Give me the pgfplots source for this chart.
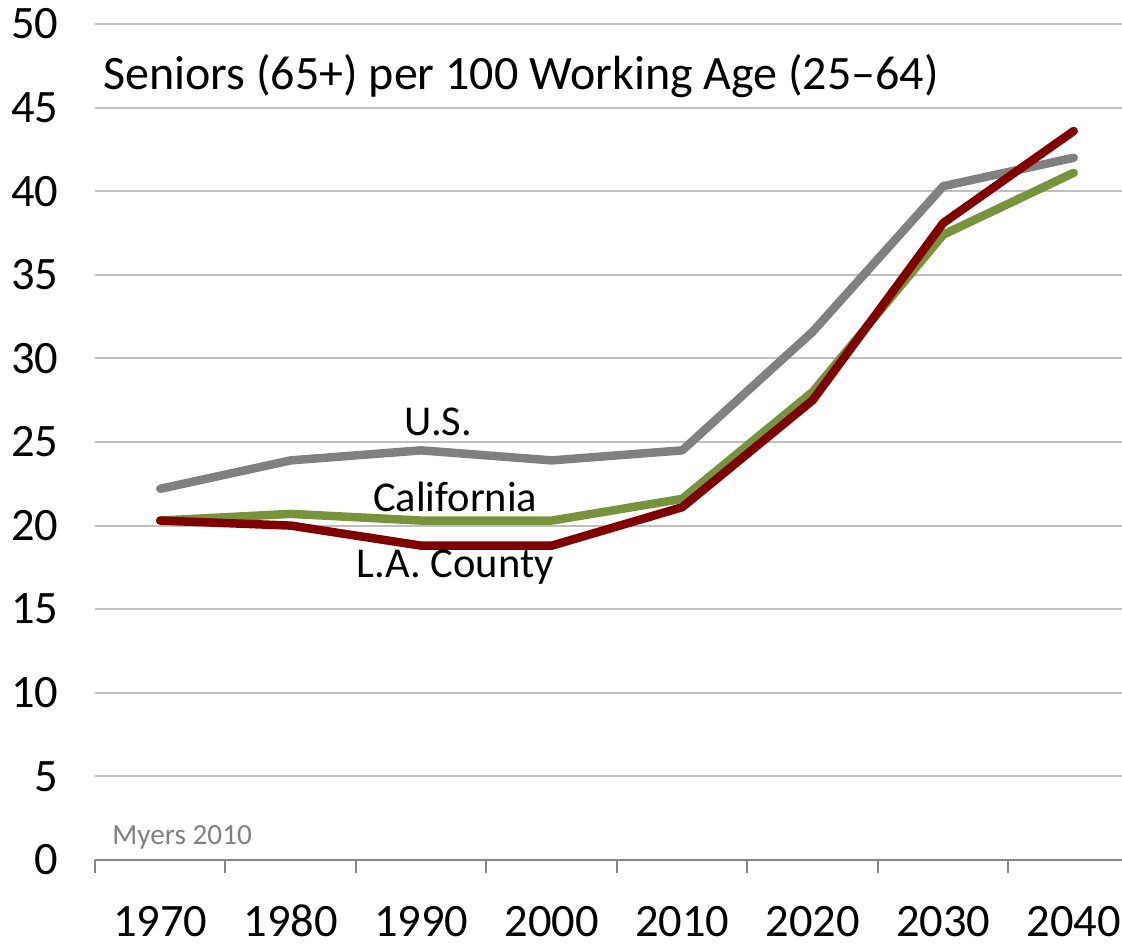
\documentclass[border=0pt]{standalone}
\usepackage{pgfplots}
\pgfplotsset{compat=1.18}
\usepackage{fontspec}
\setmainfont{Carlito}
\definecolor{usgray}{RGB}{128,128,128}
\definecolor{cagreen}{RGB}{119,147,60}
\definecolor{lared}{RGB}{128,0,0}
\definecolor{gridgray}{RGB}{191,191,191}
\definecolor{axgray}{RGB}{134,134,134}
\begin{document}
\begin{tikzpicture}
\begin{axis}[
    scale only axis,
    width=410.8pt, height=334.4pt,
    xmin=-0.5, xmax=7.37,
    ymin=0, ymax=50,
    ytick={0,5,...,50},
    xtick={0,...,7},
    xticklabels={1970,1980,1990,2000,2010,2020,2030,2040},
    major tick length=0pt,
    extra x ticks={-0.5,0.5,...,6.5},
    extra x tick labels={},
    extra x tick style={major tick length=5.3pt, tick align=outside,
        tick style={draw=axgray, line width=0.8pt}},
    axis x line*=bottom,
    axis y line*=left,
    x axis line style={draw=axgray, line width=0.8pt, -},
    y axis line style={draw=none},
    ymajorgrids,
    grid style={draw=gridgray, line width=0.8pt},
    tick label style={font=\fontsize{18.6}{21}\selectfont},
    /pgf/number format/assume math mode=true,
    yticklabel style={anchor=east, inner sep=0pt, xshift=-14.5pt},
    xticklabel style={anchor=base, inner sep=0pt, yshift=-30.5pt},
    every axis plot/.append style={line width=3.4pt, line cap=round, line join=round},
]
\coordinate (sw) at (rel axis cs:0,0);
\coordinate (ne) at (rel axis cs:1,1);
\addplot[usgray] coordinates {(0,22.2)(1,23.9)(2,24.5)(3,23.9)(4,24.5)(5,31.6)(6,40.3)(7,42.0)};
\addplot[cagreen] coordinates {(0,20.3)(1,20.7)(2,20.3)(3,20.3)(4,21.6)(5,28.0)(6,37.4)(7,41.1)};
\addplot[lared] coordinates {(0,20.3)(1,20.0)(2,18.8)(3,18.8)(4,21.1)(5,27.5)(6,38.1)(7,43.6)};
\node[anchor=west, inner sep=0pt, font=\fontsize{19.2}{22}\selectfont] at (axis cs:-0.44,46.9) {Seniors (65+) per 100 Working Age (25–64)};
\node[font=\fontsize{17}{20}\selectfont] at (axis cs:2.13,26.2) {U.S.};
\node[font=\fontsize{17}{20}\selectfont] at (axis cs:2.26,21.7) {California};
\node[font=\fontsize{17}{20}\selectfont] at (axis cs:2.26,17.5) {L.A. County};
\node[anchor=base west, inner sep=0pt, text=usgray, font=\fontsize{11.7}{14}\selectfont] at (axis cs:-0.37,0.9) {Myers 2010};
\end{axis}
\pgfresetboundingbox
\useasboundingbox ([shift={(-38pt,-33.6pt)}]sw) rectangle ([shift={(0pt,9.6pt)}]ne);
\end{tikzpicture}
\end{document}
